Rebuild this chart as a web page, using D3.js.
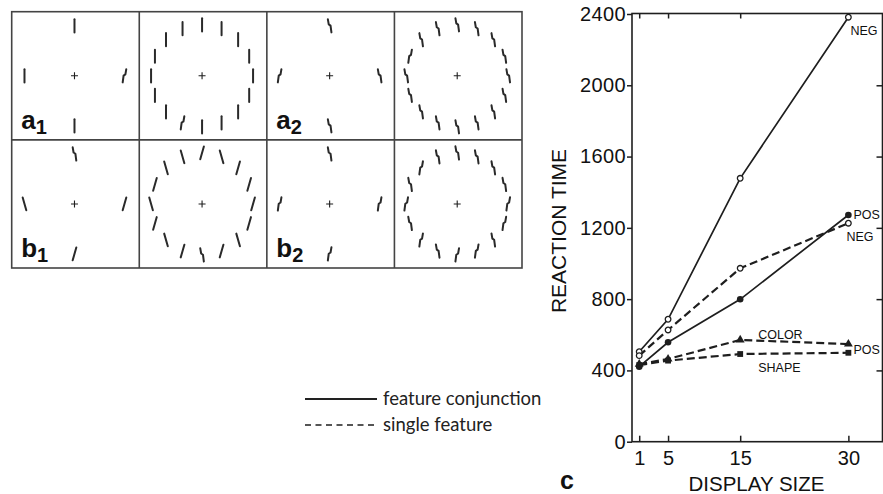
<!DOCTYPE html>
<html>
<head>
<meta charset="utf-8">
<script src="https://cdn.jsdelivr.net/npm/d3@7"></script>
<style>
  body { margin: 0; background: #fff; }
  svg { display: block; font-family: "Liberation Sans", Arial, sans-serif; }
</style>
</head>
<body>
<svg id="fig" width="883" height="494"></svg>
<script>
// reaction time data
var displaySizes = [1, 5, 15, 30];
var conjNeg  = [505, 687, 1478, 2382];
var conjPos  = [421, 558, 799, 1272];
var featNeg  = [483, 627, 973, 1226];
var colorPos = [435, 464, 571, 548];
var shapePos = [430, 455, 492, 499];

var yTicks = [0, 400, 800, 1200, 1600, 2000, 2400];
var rightTicks = [400, 800, 1200, 1600, 2000];
var topTicks = [1, 5, 15];

var legendLabels = ['feature conjunction', 'single feature'];

// stimulus panels, glyphs listed clockwise from the top
var panelLabels = [['a', '1'], null, ['a', '2'], null, ['b', '1'], null, ['b', '2'], null];
var panelGlyphs = [
  ['bar', 'kinkR', 'bar', 'bar'],
  ['bar', 'bar', 'bar', 'bar', 'bar', 'bar', 'bar', 'bar', 'bar', 'kinkR', 'bar', 'bar', 'bar', 'bar', 'bar', 'bar'],
  ['kinkL', 'kinkL', 'kinkL', 'kinkR'],
  ['kinkL', 'kinkL', 'kinkL', 'kinkL', 'kinkL', 'kinkL', 'kinkL', 'kinkL', 'kinkL', 'kinkL', 'kinkL', 'kinkL', 'kinkL', 'kinkR', 'kinkL', 'kinkL'],
  ['kinkL', 'tiltR', 'tiltR', 'tiltL'],
  ['tiltR', 'tiltL', 'tiltR', 'tiltR', 'tiltR', 'tiltR', 'tiltL', 'tiltR', 'kinkL', 'tiltR', 'tiltL', 'tiltR', 'tiltL', 'tiltR', 'tiltL', 'tiltL'],
  ['kinkL', 'kinkR', 'kinkR', 'kinkR'],
  ['kinkL', 'kinkL', 'kinkL', 'kinkL', 'kinkR', 'kinkR', 'kinkL', 'kinkR', 'kinkR', 'kinkL', 'kinkR', 'kinkL', 'kinkR', 'kinkL', 'kinkR', 'kinkL']
];

var ink = '#1e1e1e';
var svg = d3.select('#fig');

// ---------- panels a/b ----------
var colX = d3.scaleBand().domain([0, 1, 2, 3]).range([11.7, 522]);
var rowY = d3.scaleBand().domain([0, 1]).range([11.7, 268]);

var glyphPath = {
  bar:   'M0,-6.6V6.6',
  tiltR: 'M0,-6.6V6.6',
  tiltL: 'M0,-6.6V6.6',
  kinkL: 'M-1.8,-6.6L-0.9,-1.4L0.9,-0.2L1.8,6.6',
  kinkR: 'M1.8,-6.6L0.9,-1.4L-0.9,-0.2L-1.8,6.6'
};
var glyphRot = { bar: 0, tiltR: 16, tiltL: -16, kinkL: 0, kinkR: 0 };

var panels = svg.append('g');
panels.append('rect')
  .attr('x', colX.range()[0]).attr('y', rowY.range()[0])
  .attr('width', colX.range()[1] - colX.range()[0])
  .attr('height', rowY.range()[1] - rowY.range()[0])
  .attr('fill', 'none').attr('stroke', '#444').attr('stroke-width', 1.6);
[1, 2, 3].forEach(function(c) {
  panels.append('line')
    .attr('x1', colX(c)).attr('x2', colX(c))
    .attr('y1', rowY.range()[0]).attr('y2', rowY.range()[1])
    .attr('stroke', '#444').attr('stroke-width', 1.6);
});
panels.append('line')
  .attr('x1', colX.range()[0]).attr('x2', colX.range()[1])
  .attr('y1', rowY(1)).attr('y2', rowY(1))
  .attr('stroke', '#444').attr('stroke-width', 1.6);

panelGlyphs.forEach(function(glyphs, i) {
  var c = i % 4, r = Math.floor(i / 4);
  var cx = colX(c) + colX.bandwidth() / 2 - 1;
  var cy = rowY(r) + rowY.bandwidth() / 2;
  var cell = panels.append('g').attr('transform', 'translate(' + cx + ',' + cy + ')');
  var ang = d3.scaleLinear().domain([0, glyphs.length]).range([0, 2 * Math.PI]);
  var rad = glyphs.length > 4 ? 51 : 50;

  // fixation cross
  cell.append('path').attr('d', 'M-3.5,0H3.5M0,-3.5V3.5')
    .attr('stroke', ink).attr('stroke-width', 1.1);

  cell.selectAll('path.glyph').data(glyphs).enter()
    .append('path')
    .attr('class', 'glyph')
    .attr('d', function(d) { return glyphPath[d]; })
    .attr('transform', function(d, k) {
      var a = ang(k);
      return 'translate(' + (rad * Math.sin(a)) + ',' + (-rad * Math.cos(a)) + ') rotate(' + glyphRot[d] + ')';
    })
    .attr('fill', 'none')
    .attr('stroke', '#2a2a2a')
    .attr('stroke-width', 2)
    .attr('stroke-linecap', 'round')
    .attr('stroke-linejoin', 'round');

  var lab = panelLabels[i];
  if (lab) {
    var t = panels.append('text')
      .attr('x', colX(c) + 9.5)
      .attr('y', rowY(r) + rowY.bandwidth() - 11)
      .attr('font-weight', 'bold')
      .attr('font-size', 26)
      .attr('fill', '#111');
    t.append('tspan').text(lab[0]);
    t.append('tspan').attr('font-size', 20).attr('dy', 5).text(lab[1]);
  }
});

// ---------- legend ----------
var legend = svg.append('g').attr('font-family', 'Lato, "Open Sans", sans-serif');
legendLabels.forEach(function(txt, i) {
  var ly = 399 + i * 26;
  legend.append('line')
    .attr('x1', 305).attr('x2', 377).attr('y1', ly).attr('y2', ly)
    .attr('stroke', i === 0 ? '#222' : '#555')
    .attr('stroke-width', 2)
    .attr('stroke-dasharray', i === 0 ? null : '6,4.5');
  legend.append('text')
    .attr('x', 383).attr('y', ly + 6)
    .attr('font-size', 18.5)
    .attr('fill', '#222')
    .text(txt);
});

// ---------- reaction time plot ----------
var plotL = 632, plotR = 882.5, plotT = 13.5, plotB = 441.7;
var x = d3.scaleLinear().domain([0, 34.8]).range([plotL, 883]);
var y = d3.scaleLinear().domain([0, 2400]).range([plotB, 14]);

var plot = svg.append('g');

plot.append('rect')
  .attr('x', plotL).attr('y', plotT)
  .attr('width', plotR - plotL).attr('height', plotB - plotT)
  .attr('fill', 'none').attr('stroke', ink).attr('stroke-width', 1.6);

var yAxis = plot.append('g')
  .attr('transform', 'translate(' + plotL + ',0)')
  .call(d3.axisLeft(y).tickValues(yTicks).tickSize(5).tickPadding(1).tickFormat(d3.format('d')));
var xAxis = plot.append('g')
  .attr('transform', 'translate(0,' + plotB + ')')
  .call(d3.axisBottom(x).tickValues(displaySizes).tickSize(-6).tickPadding(9));
var rAxis = plot.append('g')
  .attr('transform', 'translate(' + plotR + ',0)')
  .call(d3.axisLeft(y).tickValues(rightTicks).tickSize(6).tickFormat(''));
var tAxis = plot.append('g')
  .attr('transform', 'translate(0,' + plotT + ')')
  .call(d3.axisTop(x).tickValues(topTicks).tickSize(-5).tickFormat(''));

[yAxis, xAxis, rAxis, tAxis].forEach(function(ax) {
  ax.select('.domain').remove();
  ax.selectAll('line').attr('stroke', ink).attr('stroke-width', 1.5);
  ax.selectAll('text')
    .attr('fill', '#111')
    .attr('font-size', 20)
    .attr('font-family', '"Liberation Sans", Arial, sans-serif');
});
yAxis.selectAll('text').attr('letter-spacing', 0.4);

var series = [
  { values: conjNeg,  dash: null,  marker: 'openCircle' },
  { values: conjPos,  dash: null,  marker: 'dot' },
  { values: featNeg,  dash: '8,4', marker: 'openCircle' },
  { values: colorPos, dash: '8,4', marker: 'triangle' },
  { values: shapePos, dash: '8,4', marker: 'square' }
];

var line = d3.line()
  .x(function(d, i) { return x(displaySizes[i]); })
  .y(function(d) { return y(d); });

series.forEach(function(s) {
  plot.append('path')
    .datum(s.values)
    .attr('d', line)
    .attr('fill', 'none')
    .attr('stroke', ink)
    .attr('stroke-width', s.dash ? 2.2 : 1.7)
    .attr('stroke-dasharray', s.dash);
});

var sym = {
  triangle: d3.symbol().type(d3.symbolTriangle).size(34),
  square: d3.symbol().type(d3.symbolSquare).size(34)
};
series.forEach(function(s) {
  var pts = plot.append('g').selectAll('g').data(s.values).enter().append('g')
    .attr('transform', function(d, i) { return 'translate(' + x(displaySizes[i]) + ',' + y(d) + ')'; });
  if (s.marker === 'openCircle') {
    pts.append('circle').attr('r', 2.8).attr('fill', '#fff').attr('stroke', ink).attr('stroke-width', 1.3);
  } else if (s.marker === 'dot') {
    pts.append('circle').attr('r', 3.3).attr('fill', ink);
  } else {
    pts.append('path').attr('d', sym[s.marker]()).attr('fill', ink);
  }
});

// curve annotations
var notes = [
  { text: 'NEG',   xv: 30, yv: conjNeg[3],  dx: 2,   dy: 18 },
  { text: 'POS',   xv: 30, yv: conjPos[3],  dx: 5,   dy: 3.5 },
  { text: 'NEG',   xv: 30, yv: featNeg[3],  dx: -2,  dy: 17.5 },
  { text: 'COLOR', xv: 15, yv: colorPos[2], dx: 18,  dy: -0.5 },
  { text: 'POS',   xv: 30, yv: shapePos[3], dx: 5,   dy: 1.5 },
  { text: 'SHAPE', xv: 15, yv: shapePos[2], dx: 18,  dy: 18 }
];
plot.selectAll('text.note').data(notes).enter().append('text')
  .attr('class', 'note')
  .attr('x', function(d) { return x(d.xv) + d.dx; })
  .attr('y', function(d) { return y(d.yv) + d.dy; })
  .attr('font-size', 12.5)
  .attr('fill', '#111')
  .text(function(d) { return d.text; });

// axis titles
svg.append('text')
  .attr('transform', 'translate(566,231) rotate(-90)')
  .attr('text-anchor', 'middle')
  .attr('font-size', 21)
  .attr('fill', '#111')
  .text('REACTION TIME');
svg.append('text')
  .attr('x', 756.5).attr('y', 490.5)
  .attr('text-anchor', 'middle')
  .attr('font-size', 20.5)
  .attr('fill', '#111')
  .text('DISPLAY SIZE');
svg.append('text')
  .attr('x', 560).attr('y', 489)
  .attr('font-size', 25)
  .attr('font-weight', 'bold')
  .attr('fill', '#111')
  .text('c');
</script>
</body>
</html>
